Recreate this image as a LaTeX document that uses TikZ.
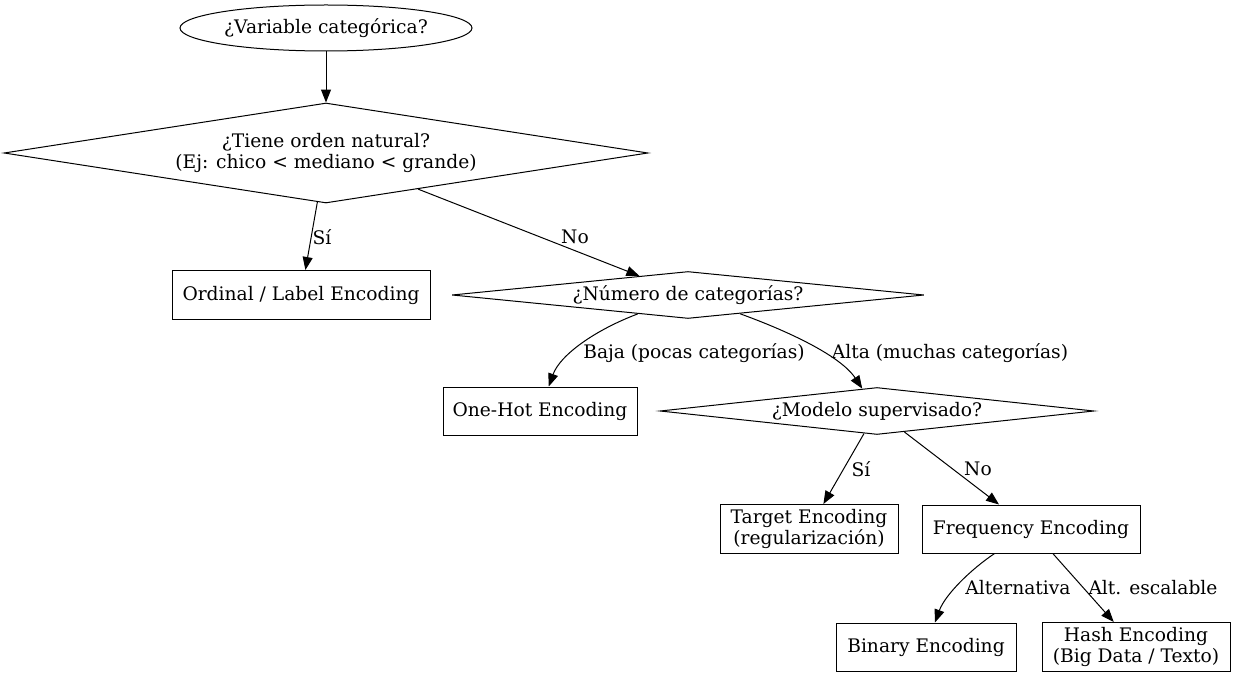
\documentclass[tikz,border=0pt]{standalone}
\usepackage{fontspec}
\setmainfont{DejaVu Serif}
\usetikzlibrary{shapes.geometric,arrows.meta}

\tikzstyle{fonte} = [font=\fontsize{9.33}{10.6}\selectfont]
\tikzstyle{caja} = [fonte, draw, line width=0.5pt, inner sep=0pt, align=center]
\tikzstyle{pregunta} = [fonte, draw, diamond, line width=0.5pt, inner sep=0pt, align=center]
\tikzstyle{etiqueta} = [fonte, inner sep=0pt]
\tikzstyle{flecha} = [-{Triangle[length=6.5pt,width=5pt]}, line width=0.5pt]

\begin{document}
\begin{tikzpicture}[x=0.5pt,y=-0.5pt]
    \useasboundingbox (0,0) rectangle (1236,679);

    % start
    \node at (326,28) [fonte, draw, ellipse, line width=0.5pt, minimum width=146pt, minimum height=23pt, inner sep=0pt] (inicio) {¿Variable categórica?};

    % questions
    \node at (326,153) [pregunta, aspect=6.44, minimum width=322pt, minimum height=50pt] (orden) {¿Tiene orden natural?\\(Ej: chico < mediano < grande)};
    \node at (688,295) [pregunta, aspect=10.04, minimum width=236pt, minimum height=23.5pt] (numero) {¿Número de categorías?};
    \node at (877,411) [pregunta, aspect=9.23, minimum width=217pt, minimum height=23.5pt] (modelo) {¿Modelo supervisado?};

    % encodings
    \node at (301,295) [caja, minimum width=129pt, minimum height=24.5pt] (ordinal) {Ordinal / Label Encoding};
    \node at (540,411) [caja, minimum width=97pt, minimum height=24pt] (onehot) {One-Hot Encoding};
    \node at (809,529) [caja, minimum width=89pt, minimum height=24.5pt] (target) {Target Encoding\\(regularización)};
    \node at (1031,529) [caja, minimum width=109pt, minimum height=24pt] (frecuencia) {Frequency Encoding};
    \node at (926,647) [caja, minimum width=90pt, minimum height=24pt] (binario) {Binary Encoding};
    \node at (1136,647) [caja, minimum width=94pt, minimum height=24.5pt] (hash) {Hash Encoding\\(Big Data / Texto)};

    % connectors
    \draw [flecha] (inicio) -- (orden);
    \draw [flecha] (orden) -- (ordinal) node at (322,237) [etiqueta] {Sí};
    \draw [flecha] (orden) -- (numero) node at (575,237) [etiqueta] {No};
    \draw [flecha] (numero) .. controls (595,330) and (560,355) .. (onehot) node at (694,353) [etiqueta] {Baja (pocas categorías)};
    \draw [flecha] (numero) .. controls (785,330) and (840,355) .. (modelo) node at (950,353) [etiqueta] {Alta (muchas categorías)};
    \draw [flecha] (modelo) -- (target) node at (861,469) [etiqueta] {Sí};
    \draw [flecha] (modelo) -- (frecuencia) node at (978,469) [etiqueta] {No};
    \draw [flecha] (frecuencia) .. controls (970,570) and (945,595) .. (binario) node at (1018,588) [etiqueta] {Alternativa};
    \draw [flecha] (frecuencia) -- (hash) node at (1153,588) [etiqueta] {Alt. escalable};

\end{tikzpicture}
\end{document}
